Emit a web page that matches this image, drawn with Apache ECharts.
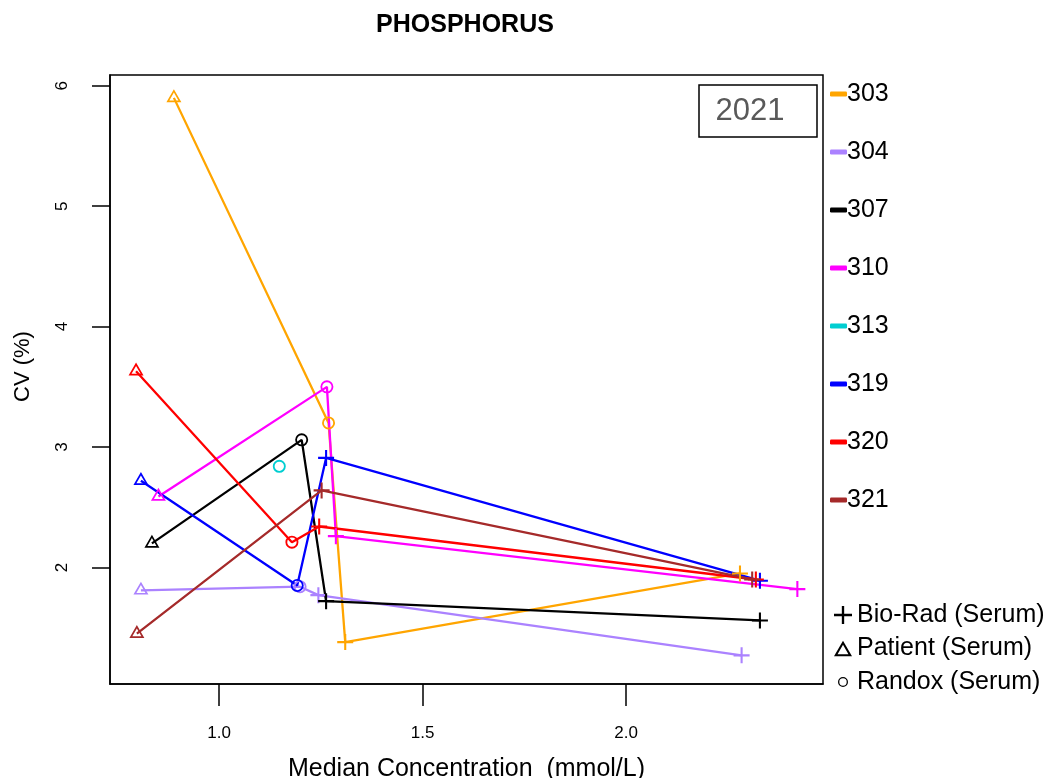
<!DOCTYPE html>
<html>
<head>
<meta charset="utf-8">
<title>PHOSPHORUS</title>
<script src="https://cdn.jsdelivr.net/npm/echarts@6/dist/echarts.min.js"></script>
<style>
  html, body { margin: 0; padding: 0; background: #fff; }
  #chart { width: 1047px; height: 778px; }
</style>
</head>
<body>
<div id="chart"></div>
<script>
// Laboratories and their line colours
const labs = ['303', '304', '307', '310', '313', '319', '320', '321'];
const labColors = ['#FFA500', '#AB82FF', '#000000', '#FF00FF', '#00CED1', '#0000FF', '#FF0000', '#A52A2A'];

// Patient (Serum): median concentration (mmol/L) and CV (%)
const patientConc = [0.889, 0.808, 0.835, 0.851, null, 0.808, 0.796, 0.798];
const patientCV   = [5.90, 1.81, 2.20, 2.59, null, 2.72, 3.63, 1.45];

// Randox (Serum)
const randoxConc = [1.269, 1.199, 1.203, 1.265, 1.148, 1.192, 1.179, null];
const randoxCV   = [3.20, 1.84, 3.06, 3.50, 2.84, 1.85, 2.21, null];

// Bio-Rad (Serum), low level
const bioRadLowConc = [1.310, 1.244, 1.263, 1.287, null, 1.263, 1.246, 1.252];
const bioRadLowCV   = [1.38, 1.77, 1.72, 2.26, null, 2.91, 2.34, 2.64];

// Bio-Rad (Serum), high level
const bioRadHighConc = [2.280, 2.284, 2.329, 2.421, null, 2.329, 2.319, 2.310];
const bioRadHighCV   = [1.95, 1.27, 1.56, 1.82, null, 1.89, 1.90, 1.90];

// Axis ticks
const xTicks = [1.0, 1.5, 2.0];
const yTicks = [2, 3, 4, 5, 6];

const materials = ['Bio-Rad (Serum)', 'Patient (Serum)', 'Randox (Serum)'];
const yearLabel = '2021';

// Marker shapes: plus, open triangle, open circle (rings drawn as filled paths)
const PLUS = 'path://M8.7,0H11.3V20H8.7ZM0,8.7H20V11.3H0Z';
const TRI = 'path://M10,0L20,17.32L0,17.32ZM10,4.59L3.97,15.03L16.03,15.03Z';
const RING = 'path://M10,0A10,10,0,1,1,10,20A10,10,0,1,1,10,0ZM10,2.8A7.2,7.2,0,1,0,10,17.2A7.2,7.2,0,1,0,10,2.8Z';
const RING_SMALL = 'path://M-8,-8L-8,-8M28,28L28,28M10,0A10,10,0,1,1,10,20A10,10,0,1,1,10,0ZM10,2.6A7.4,7.4,0,1,0,10,17.4A7.4,7.4,0,1,0,10,2.6Z';

const FONT = '"Liberation Sans", Arial, Helvetica, sans-serif';

function point(x, y, symbol, size, offset) {
  return { value: [x, y], symbol: symbol, symbolSize: size, symbolOffset: offset || [0, 0] };
}

const labSeries = labs.map(function (lab, i) {
  const pts = [];
  if (patientCV[i] != null) pts.push(point(patientConc[i], patientCV[i], TRI, 15, [0, -2.2]));
  if (randoxCV[i] != null) pts.push(point(randoxConc[i], randoxCV[i], RING, 13));
  if (bioRadLowCV[i] != null) pts.push(point(bioRadLowConc[i], bioRadLowCV[i], PLUS, 16));
  if (bioRadHighCV[i] != null) pts.push(point(bioRadHighConc[i], bioRadHighCV[i], PLUS, 16));
  return {
    name: lab,
    type: 'line',
    data: pts,
    symbolKeepAspect: true,
    showSymbol: true,
    itemStyle: { color: labColors[i], borderWidth: 0 },
    lineStyle: { color: labColors[i], width: 2.3 },
    emphasis: { disabled: true },
    z: 2
  };
});

// Empty series that only feed the marker legend
const materialIcons = [PLUS, TRI, RING_SMALL];
const materialSeries = materials.map(function (m) {
  return { name: m, type: 'line', data: [], itemStyle: { color: '#000', borderWidth: 0 } };
});

const chart = echarts.init(document.getElementById('chart'), null, { renderer: 'canvas' });

chart.setOption({
  animation: false,
  backgroundColor: '#fff',
  textStyle: { fontFamily: FONT },
  title: {
    text: 'PHOSPHORUS',
    left: 460,
    top: 8,
    textAlign: 'center',
    textStyle: { fontFamily: FONT, fontSize: 25, fontWeight: 'bold', color: '#000' }
  },
  grid: {
    left: 110, top: 75, right: 224, bottom: 94,
    outerBoundsMode: 'none',
    show: true, borderColor: '#000', borderWidth: 1.5, backgroundColor: 'transparent'
  },
  xAxis: {
    type: 'value',
    min: 0.732, max: 2.484,
    name: 'Median Concentration  (mmol/L)',
    nameLocation: 'middle',
    nameGap: 73,
    nameTextStyle: { fontFamily: FONT, fontSize: 25, color: '#000' },
    axisLine: { show: true, onZero: false, lineStyle: { color: '#000', width: 1.5 } },
    axisTick: { show: true, length: 22, customValues: xTicks, lineStyle: { color: '#000', width: 1.5 } },
    axisLabel: {
      customValues: xTicks, margin: 41, fontSize: 17, color: '#000', fontFamily: FONT,
      formatter: function (v) { return v.toFixed(1); }
    },
    splitLine: { show: false }
  },
  yAxis: {
    type: 'value',
    min: 1.032, max: 6.090,
    name: 'CV (%)',
    nameLocation: 'middle',
    nameRotate: 90,
    nameGap: 76,
    nameTextStyle: { fontFamily: FONT, fontSize: 22, color: '#000', padding: [0, 0, 0, 26] },
    axisLine: { show: true, onZero: false, lineStyle: { color: '#000', width: 1.5 } },
    axisTick: { show: true, length: 18, customValues: yTicks, lineStyle: { color: '#000', width: 1.5 } },
    axisLabel: {
      customValues: yTicks, rotate: 90, margin: 39, fontSize: 17, color: '#000', fontFamily: FONT,
      formatter: function (v) { return String(v); }
    },
    splitLine: { show: false }
  },
  legend: [
    {
      data: labs,
      orient: 'vertical',
      left: 825,
      top: 74,
      icon: 'roundRect',
      itemWidth: 17,
      itemHeight: 5,
      itemGap: 28,
      selectedMode: false,
      itemStyle: { borderWidth: 0 },
      textStyle: { fontFamily: FONT, fontSize: 25, color: '#000', lineHeight: 30, padding: [0, 0, 0, -5] }
    },
    {
      data: materials.map(function (m, k) { return { name: m, icon: materialIcons[k] }; }),
      orient: 'vertical',
      left: 829,
      top: 595,
      itemWidth: 18,
      itemHeight: 18,
      itemGap: 3.5,
      selectedMode: false,
      itemStyle: { borderWidth: 0 },
      textStyle: { fontFamily: FONT, fontSize: 25, color: '#000', lineHeight: 30 }
    }
  ],
  graphic: [
    {
      type: 'rect',
      shape: { x: 699, y: 85, width: 118, height: 52 },
      style: { fill: '#fff', stroke: '#000', lineWidth: 1.5 },
      z: 10
    },
    {
      type: 'text',
      x: 750, y: 111,
      style: { text: yearLabel, fill: '#595959', font: '31px ' + FONT, align: 'center', verticalAlign: 'middle' },
      z: 11
    }
  ],
  series: labSeries.concat(materialSeries)
});
</script>
</body>
</html>
